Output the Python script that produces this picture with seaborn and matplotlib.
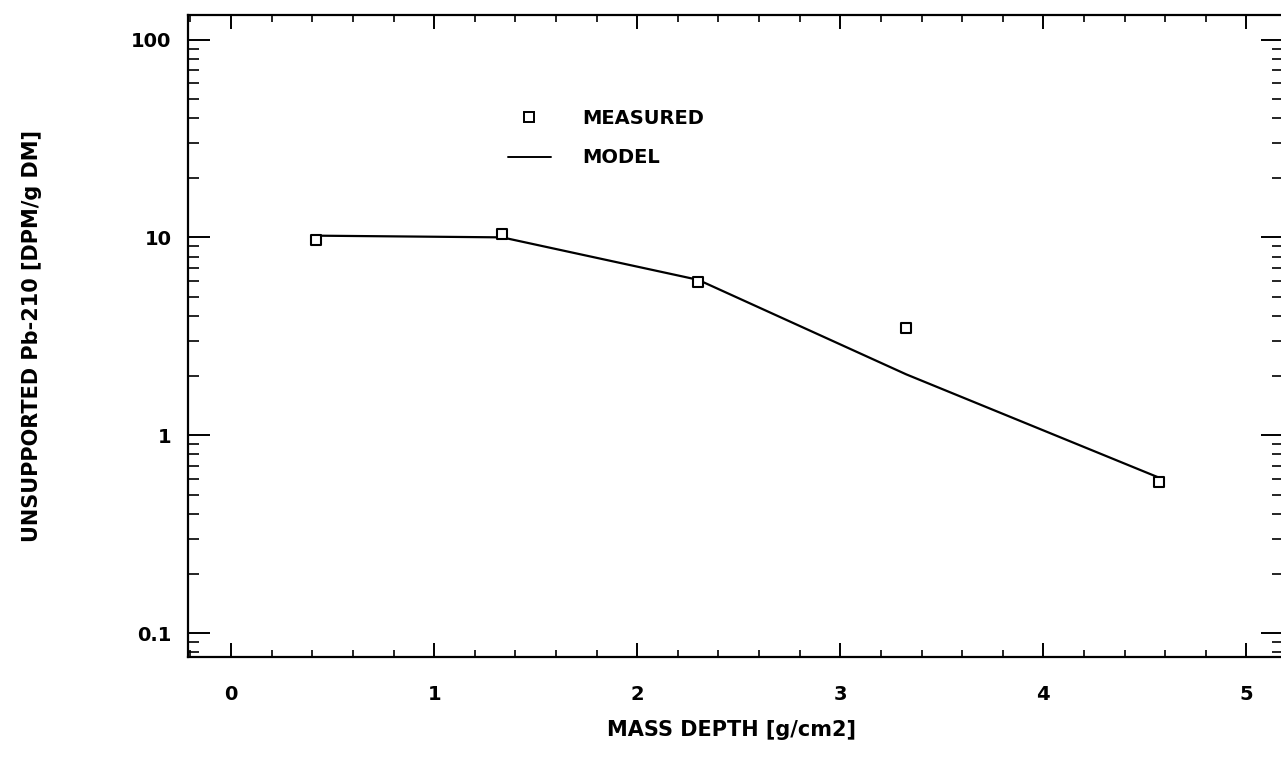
import matplotlib
matplotlib.use("Agg")
import matplotlib.pyplot as plt
import matplotlib.ticker as mticker
import seaborn as sns
import pandas as pd
from matplotlib.lines import Line2D

# ---- data ----
depth = [0.42, 1.335, 2.30, 3.325, 4.57]
measured = [9.66, 10.35, 5.93, 3.47, 0.58]
model = [10.2, 10.0, 6.1, 2.03, 0.61]
y_ticks = [0.1, 1, 10, 100]
y_tick_labels = ["0.1", "1", "10", "100"]
x_ticks = [0, 1, 2, 3, 4, 5]
x_tick_labels = ["0", "1", "2", "3", "4", "5"]

df = pd.DataFrame({"depth": depth, "measured": measured, "model": model})

sns.set_theme(style="white")
plt.rcParams["font.family"] = ["DejaVu Sans"]
plt.rcParams["font.weight"] = "bold"
plt.rcParams["text.color"] = "black"
plt.rcParams["axes.labelcolor"] = "black"
plt.rcParams["xtick.color"] = "black"
plt.rcParams["ytick.color"] = "black"

W, H = 1281, 760
fig = plt.figure(figsize=(W / 100, H / 100), dpi=100)
left, right, top, bottom = 188, 1283, 15, 657
ax = fig.add_axes([left / W, 1 - bottom / H, (right - left) / W, (bottom - top) / H])

sns.lineplot(data=df, x="depth", y="model", ax=ax, color="black", linewidth=1.6,
             label="MODEL", legend=False)
sns.scatterplot(data=df, x="depth", y="measured", ax=ax, marker="s", s=55,
                facecolor="white", edgecolor="black", linewidth=1.5, zorder=5,
                legend=False)

ax.set_yscale("log")
ax.set_xlim(-0.212, 5.18)
ax.set_ylim(0.0757, 133)

ax.yaxis.set_major_locator(mticker.FixedLocator(y_ticks))
ax.yaxis.set_major_formatter(mticker.FixedFormatter(y_tick_labels))
ax.yaxis.set_minor_locator(mticker.LogLocator(base=10, subs=[2, 3, 4, 5, 6, 7, 8, 9]))
ax.yaxis.set_minor_formatter(mticker.NullFormatter())
ax.xaxis.set_major_locator(mticker.FixedLocator(x_ticks))
ax.xaxis.set_major_formatter(mticker.FixedFormatter(x_tick_labels))
ax.xaxis.set_minor_locator(mticker.MultipleLocator(0.2))

ax.tick_params(axis="both", which="both", direction="in", color="black",
               labelcolor="black", top=True, right=True, bottom=True, left=True)
ax.tick_params(axis="y", which="major", length=16, width=1.4, labelsize=14, pad=12)
ax.tick_params(axis="y", which="minor", length=8, width=1.2)
ax.tick_params(axis="x", which="major", length=10, width=1.4, labelsize=14, pad=20)
ax.tick_params(axis="x", which="minor", length=5, width=1.2)
for lab in ax.get_xticklabels() + ax.get_yticklabels():
    lab.set_fontweight("bold")

for sp in ax.spines.values():
    sp.set_visible(True)
    sp.set_color("black")
    sp.set_linewidth(1.6)

ax.set_xlabel("MASS DEPTH [g/cm2]", fontsize=15, fontweight="bold", labelpad=0,
              color="black")
ax.xaxis.set_label_coords(0.496, -0.113)
ax.xaxis.label.set_va("center")
ax.set_ylabel("UNSUPPORTED Pb-210 [DPM/g DM]", fontsize=15, fontweight="bold",
              color="black")
ax.yaxis.set_label_coords(-0.1425, 0.50)
ax.yaxis.label.set_va("center")
ax.grid(False)

handles = [
    Line2D([], [], linestyle="none", marker="s", markersize=6.5, markerfacecolor="white",
           markeredgecolor="black", markeredgewidth=1.4),
    Line2D([], [], color="black", linewidth=1.4),
]
leg = fig.legend(handles, ["MEASURED", "MODEL"], loc="upper left",
                 bbox_to_anchor=(508 / W, 1 - 109 / H), bbox_transform=fig.transFigure,
                 frameon=False, fontsize=14, handlelength=2.2, handletextpad=1.6,
                 labelspacing=1.05, borderpad=0, borderaxespad=0)
for t in leg.get_texts():
    t.set_fontweight("bold")
    t.set_color("black")

fig.savefig("out.png", dpi=100, facecolor="white")
